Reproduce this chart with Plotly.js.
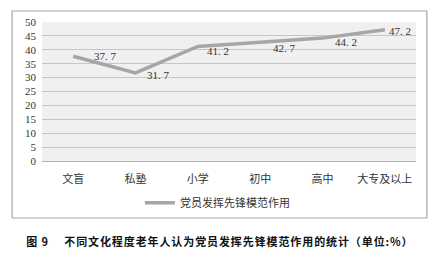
<!DOCTYPE html>
<html>
<head>
<meta charset="utf-8">
<script src="https://cdn.plot.ly/plotly-3.0.1.min.js"></script>
<style>html,body{margin:0;padding:0;background:#fff;}#chart{width:436px;height:260px;}</style>
</head>
<body>
<div id="chart"></div>
<script>
const categories = ["文盲", "私塾", "小学", "初中", "高中", "大专及以上"];
const values = [37.7, 31.7, 41.2, 42.7, 44.2, 47.2];
const seriesName = "党员发挥先锋模范作用";
const caption = "图 9　 不同文化程度老年人认为党员发挥先锋模范作用的统计（单位:%）";

const serif = "Liberation Serif, 'Noto Sans CJK SC', serif";
const trace = {
  x: categories,
  y: values,
  type: "scatter",
  mode: "lines",
  name: seriesName,
  line: {color: "#a6a6a6", width: 3.5}
};

const labelShift = [[19, 0], [9, -2], [7, -5], [11, -6], [10, -4], [2, -1]];
const labelAnns = categories.map((c, i) => ({
  x: c, y: values[i], xref: "x", yref: "y",
  text: values[i].toFixed(1).replace(".", ". "),
  showarrow: false, xanchor: "left", yanchor: "middle",
  xshift: labelShift[i][0], yshift: labelShift[i][1],
  font: {family: serif, size: 11, color: "#333"}
}));

const layout = {
  width: 436, height: 260,
  margin: {l: 42, r: 20, t: 22, b: 99},
  paper_bgcolor: "#ffffff",
  plot_bgcolor: "#f0f0f0",
  showlegend: true,
  legend: {x: 0.469, y: -0.30, xanchor: "center", yanchor: "middle", orientation: "h",
           font: {family: serif, size: 11, color: "#333"}, bgcolor: "rgba(0,0,0,0)"},
  xaxis: {
    type: "category", range: [-0.5, 5.5], showgrid: false, zeroline: false,
    showline: true, linecolor: "#b0b0b0", linewidth: 1, ticks: "", ticklabelstandoff: 8,
    tickfont: {family: serif, size: 11, color: "#333"}, fixedrange: true
  },
  yaxis: {
    range: [0, 50], dtick: 5, showgrid: true, gridcolor: "#c6c6c6", gridwidth: 1,
    zeroline: false, showline: false, ticks: "", ticklen: 0, ticklabelstandoff: 5,
    tickfont: {family: serif, size: 11, color: "#333"}, fixedrange: true
  },
  shapes: [{
    type: "rect", xref: "paper", yref: "paper",
    x0: -0.080, x1: 1.029, y0: -0.41, y1: 1.079,
    line: {color: "#a8a8a8", width: 1.2}, fillcolor: "rgba(0,0,0,0)", layer: "below"
  }],
  annotations: labelAnns.concat([{
    text: caption, xref: "paper", yref: "paper", x: 0.475, y: -0.575,
    xanchor: "center", yanchor: "middle", showarrow: false,
    font: {family: "'Noto Sans CJK SC', sans-serif", size: 11, color: "#111", weight: "bold"}
  }])
};

Plotly.newPlot("chart", [trace], layout, {displayModeBar: false, staticPlot: true}).then(gd => {
  const texts = gd.querySelectorAll(".annotation-text");
  texts.forEach(t => {
    if (t.textContent.indexOf("图") === 0) {
      t.style.letterSpacing = "0.9px";
    }
  });
});
</script>
</body>
</html>
